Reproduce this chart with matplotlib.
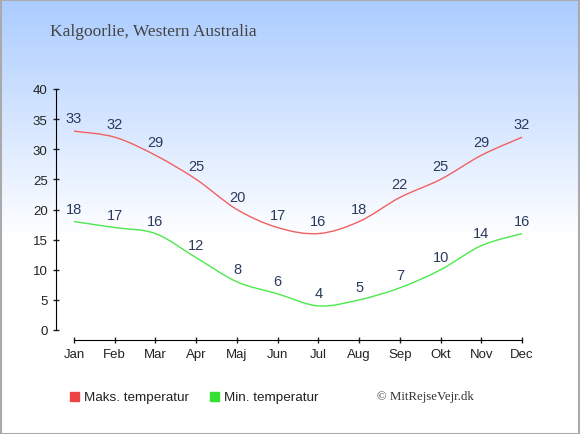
import numpy as np
import matplotlib
matplotlib.use("Agg")
import matplotlib.pyplot as plt
from matplotlib.path import Path
from matplotlib.patches import PathPatch, Rectangle

months = ["Jan", "Feb", "Mar", "Apr", "Maj", "Jun", "Jul", "Aug", "Sep", "Okt", "Nov", "Dec"]
max_temp = [33, 32, 29, 25, 20, 17, 16, 18, 22, 25, 29, 32]
min_temp = [18, 17, 16, 12, 8, 6, 4, 5, 7, 10, 14, 16]

red = "#f26060"
green = "#4ce84c"
label_col = "#2b3a5c"


def smooth_path(xs, ys):
    # cubic bezier through the points (catmull-rom style control points)
    xs = np.asarray(xs, float)
    ys = np.asarray(ys, float)
    verts = [(xs[0], ys[0])]
    codes = [Path.MOVETO]
    n = len(xs)
    for i in range(n - 1):
        p0 = (xs[max(i - 1, 0)], ys[max(i - 1, 0)])
        p1 = (xs[i], ys[i])
        p2 = (xs[i + 1], ys[i + 1])
        p3 = (xs[min(i + 2, n - 1)], ys[min(i + 2, n - 1)])
        t = 1 / 6
        c1 = (p1[0] + (p2[0] - p0[0]) * t, p1[1] + (p2[1] - p0[1]) * t)
        c2 = (p2[0] - (p3[0] - p1[0]) * t, p2[1] - (p3[1] - p1[1]) * t)
        verts += [c1, c2, p2]
        codes += [Path.CURVE4] * 3
    return Path(verts, codes)


fig = plt.figure(figsize=(5.8, 4.35), dpi=100)

# background gradient
bg = fig.add_axes([0, 0, 1, 1], zorder=-10)
grad = np.linspace(0, 1, 256).reshape(-1, 1)
top = np.array([0.67, 0.80, 1.0])
white = np.array([1.0, 1.0, 1.0])
frac = np.clip(grad / 0.55, 0, 1)
img = top * (1 - frac) + white * frac
bg.imshow(img.reshape(256, 1, 3), aspect="auto", extent=[0, 1, 0, 1], origin="upper")
bg.add_patch(Rectangle((0.001, 0.001), 0.997, 0.997, fill=False, ec="#aaaaaa", lw=1.5,
                       transform=bg.transAxes))
bg.set_xlim(0, 1)
bg.set_ylim(0, 1)
bg.axis("off")

ax = fig.add_axes([56 / 580, (435 - 341) / 435, (540 - 56) / 580, (341 - 90) / 435])
ax.patch.set_alpha(0)
x = np.arange(len(months))

ax.add_patch(PathPatch(smooth_path(x, max_temp), fill=False, ec=red, lw=1.0))
ax.add_patch(PathPatch(smooth_path(x, min_temp), fill=False, ec=green, lw=1.0))

for xi, v in zip(x, max_temp):
    ax.annotate(str(v), (xi, v), xytext=(0, 13), textcoords="offset pixels",
                ha="center", va="center", fontsize=10.5, color=label_col, family="Liberation Sans")
for xi, v in zip(x, min_temp):
    ax.annotate(str(v), (xi, v), xytext=(0, 13), textcoords="offset pixels",
                ha="center", va="center", fontsize=10.5, color=label_col, family="Liberation Sans")

ax.set_ylim(-10 / 241 * 40, 40)
ax.set_xlim(-18 / 40.73, 11.44)
ax.set_yticks(range(0, 41, 5))
ax.set_xticks(x)
ax.set_xticklabels(months)
for s in ["top", "right"]:
    ax.spines[s].set_visible(False)
ax.spines["left"].set_bounds(0, 40)
ax.spines["bottom"].set_bounds(0, 11)
ax.tick_params(direction="inout", length=5, width=1, labelsize=9.5, colors="#222222", pad=3.5)
for lab in ax.get_xticklabels() + ax.get_yticklabels():
    lab.set_family("Liberation Sans")

fig.text(50 / 580, 1 - 32 / 435, "Kalgoorlie, Western Australia", family="Liberation Serif",
         fontsize=12.5, color="#444444", va="center", ha="left")

# legend
fig.patches.append(Rectangle((70 / 580, 1 - 402 / 435), 9 / 580, 9 / 435, color="#ee4444",
                             transform=fig.transFigure, figure=fig))
fig.text(84 / 580, 1 - 398 / 435, "Maks. temperatur", family="Liberation Sans", fontsize=9.7,
         color="#222222", va="center", ha="left")
fig.patches.append(Rectangle((210 / 580, 1 - 402 / 435), 9 / 580, 9 / 435, color="#33e033",
                             transform=fig.transFigure, figure=fig))
fig.text(224 / 580, 1 - 398 / 435, "Min. temperatur", family="Liberation Sans", fontsize=9.7,
         color="#222222", va="center", ha="left")
fig.text(377 / 580, 1 - 397 / 435, "© MitRejseVejr.dk", family="Liberation Serif", fontsize=9.3,
         color="#333333", va="center", ha="left")

fig.savefig("out.png", dpi=100)
